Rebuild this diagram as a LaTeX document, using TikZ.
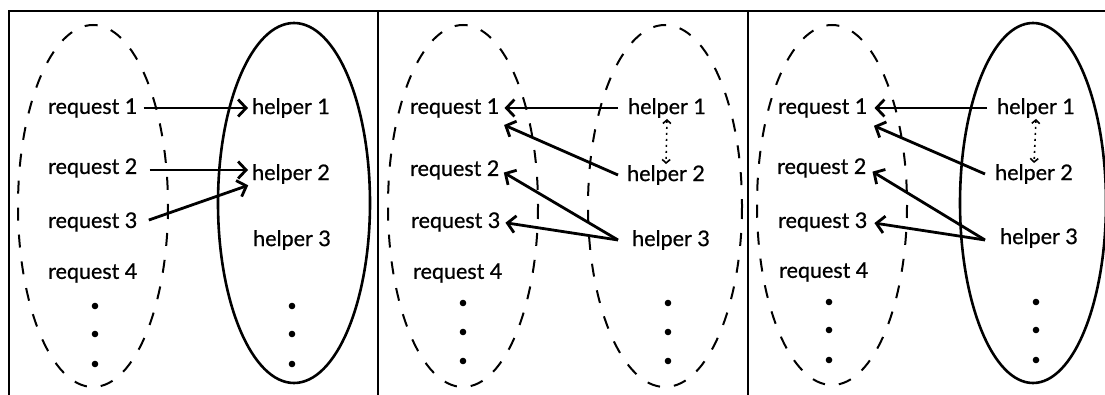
\documentclass[tikz,border=0pt]{standalone}
\usepackage{fontspec}
\setmainfont{Lato}
\newfontfamily\lblfont{Lato}[FakeBold=0.8]
\usetikzlibrary{arrows.meta}
\tikzset{
  lbl/.style={inner sep=0pt, anchor=west, font=\lblfont\fontsize{21.5}{22}\selectfont},
  dashell/.style={line width=2pt, dash pattern=on 13pt off 14pt},
  solidell/.style={line width=2.6pt},
  frame/.style={line width=2pt},
  conn/.style={line width=2.8pt, -{Straight Barb[length=8pt,width=17pt,line width=2.8pt]}},
  dotconn/.style={line width=1.6pt, dash pattern=on 2pt off 4pt,
    {Straight Barb[length=3.5pt,width=8pt,line width=1.6pt]}-{Straight Barb[length=3.5pt,width=8pt,line width=1.6pt]}},
  dot/.style={fill=black}
}
\begin{document}
\begin{tikzpicture}[x=1pt,y=-1pt]
\useasboundingbox (0,0) rectangle (1105,395);
% frame
\draw[frame] (9,395) -- (9,11) -- (1105,11);
\draw[frame] (378,11) -- (378,395);
\draw[frame] (748,11) -- (748,395);

% ---------- panel 1 ----------
\draw[dashell] (93,206) ellipse [x radius=75, y radius=181];
\draw[solidell] (294,203) ellipse [x radius=76, y radius=180];
\node[lbl] (a-r1) at (48,108) {request 1};
\node[lbl] (a-r2) at (48,168) {request 2};
\node[lbl] (a-r3) at (48,222) {request 3};
\node[lbl] (a-r4) at (48,273) {request 4};
\node[lbl] (a-h1) at (252,108) {helper 1};
\node[lbl] (a-h2) at (252,174) {helper 2};
\node[lbl] (a-h3) at (253,240) {helper 3};
\foreach \y in {306,334,364} {\fill[dot] (95,\y) circle (3.3); \fill[dot] (292,\y) circle (3.3);}
\draw[conn, shorten <=6pt, shorten >=4pt] (a-r1.east) -- (a-h1.west);
\draw[conn, shorten <=12pt, shorten >=4pt] ([yshift=-2pt]a-r2.east) -- ([yshift=4pt]a-h2.west);
\draw[conn, shorten <=12pt, shorten >=4pt] ([yshift=-2pt]a-r3.east) -- ([yshift=-10pt]a-h2.west);

% ---------- panel 2 ----------
\draw[dashell] (463,206) ellipse [x radius=75, y radius=181];
\draw[dashell] (665,206) ellipse [x radius=77, y radius=181];
\node[lbl] (b-r1) at (410,108) {request 1};
\node[lbl] (b-r2) at (410,170) {request 2};
\node[lbl] (b-r3) at (411,222) {request 3};
\node[lbl] (b-r4) at (413,273) {request 4};
\node[lbl] (b-h1) at (628,108) {helper 1};
\node[lbl] (b-h2) at (627,175) {helper 2};
\node[lbl] (b-h3) at (632,240) {helper 3};
\foreach \y in {303,332,361} {\fill[dot] (463,\y) circle (3.3); \fill[dot] (668,\y) circle (3.3);}
\coordinate (b-s1) at ([xshift=-10pt]b-h1.west);
\coordinate (b-s2) at ([xshift=-9pt]b-h2.west);
\coordinate (b-s3) at ([xshift=-14pt]b-h3.west);
\draw[conn, shorten >=5pt] (b-s1) -- (b-r1.east);
\draw[conn, shorten >=5pt] (b-s2) -- ([yshift=-15pt]b-r1.east);
\draw[conn, shorten >=5pt] (b-s3) -- (b-r2.east);
\draw[conn, shorten >=5pt] (b-s3) -- (b-r3.east);
\draw[dotconn, shorten <=1pt, shorten >=1pt] (b-h1.south) -- (b-h2.north);

% ---------- panel 3 ----------
\draw[dashell] (832,205) ellipse [x radius=75, y radius=180];
\draw[solidell] (1033,203) ellipse [x radius=73, y radius=180];
\node[lbl] (c-r1) at (778,108) {request 1};
\node[lbl] (c-r2) at (777,168) {request 2};
\node[lbl] (c-r3) at (778,222) {request 3};
\node[lbl] (c-r4) at (779,272) {request 4};
\node[lbl] (c-h1) at (997,108) {helper 1};
\node[lbl] (c-h2) at (995,174) {helper 2};
\node[lbl] (c-h3) at (1000,238) {helper 3};
\foreach \y in {302,330,360} {\fill[dot] (829,\y) circle (3.3); \fill[dot] (1036,\y) circle (3.3);}
\coordinate (c-s1) at ([xshift=-10pt]c-h1.west);
\coordinate (c-s2) at ([xshift=-10pt]c-h2.west);
\coordinate (c-s3) at ([xshift=-15pt,yshift=-2pt]c-h3.west);
\draw[conn, shorten >=7pt] (c-s1) -- (c-r1.east);
\draw[conn, shorten >=7pt] (c-s2) -- ([yshift=-15pt]c-r1.east);
\draw[conn, shorten >=7pt] (c-s3) -- (c-r2.east);
\draw[conn, shorten >=7pt] (c-s3) -- (c-r3.east);
\draw[dotconn, shorten <=1pt, shorten >=1pt] (c-h1.south) -- (c-h2.north);
\end{tikzpicture}
\end{document}
